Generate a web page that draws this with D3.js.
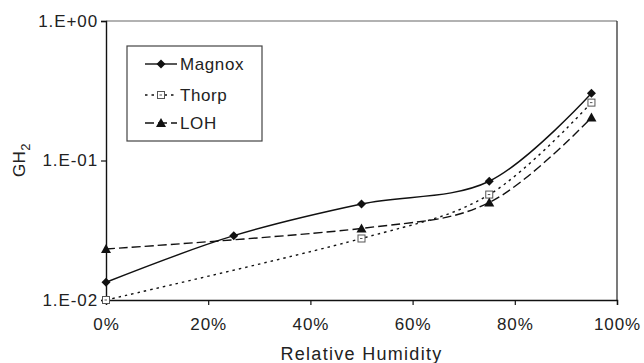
<!DOCTYPE html>
<html><head><meta charset="utf-8">
<script src="https://cdn.jsdelivr.net/npm/d3@7"></script>
<style>body{margin:0;background:#fff}svg text{font-family:"Liberation Sans",Arial,sans-serif;fill:#222}</style>
</head><body><svg id="c" width="644" height="363"></svg>
<script>
const humidity = [0, 25, 50, 75, 95];
const magnox = [0.0134, 0.0289, 0.0488, 0.071, 0.303];
const thorpX = [0, 50, 75, 95];
const thorp = [0.0100, 0.0276, 0.057, 0.26];
const lohX = [0, 50, 75, 95];
const loh = [0.0232, 0.0326, 0.050, 0.203];
const xTicks = [0, 20, 40, 60, 80, 100];
const yTicks = [0.01, 0.1, 1];
const yTickLabels = ["1.E-02", "1.E-01", "1.E+00"];
const seriesNames = ["Magnox", "Thorp", "LOH"];

const svg = d3.select("#c");
const L = 106, R = 617, T = 21, B = 300;
const x = d3.scaleLinear().domain([0, 100]).range([L, R]);
const y = d3.scaleLog().domain([0.01, 1]).range([B, T]);

// frame
svg.append("line").attr("x1", L).attr("x2", R).attr("y1", T).attr("y2", T).attr("stroke", "#666").attr("stroke-width", 1.2);
svg.append("line").attr("x1", R).attr("x2", R).attr("y1", T).attr("y2", B).attr("stroke", "#222").attr("stroke-width", 1.2);

const xa = svg.append("g").attr("transform", `translate(0,${B})`)
  .call(d3.axisBottom(x).tickValues(xTicks).tickFormat(d => d + "%").tickSize(5));
xa.selectAll(".tick text").attr("y", 30).attr("dy", 0);
const ya = svg.append("g").attr("transform", `translate(${L},0)`)
  .call(d3.axisLeft(y).tickValues(yTicks).tickFormat((d, i) => yTickLabels[i]).tickSize(5).tickPadding(3));
[xa, ya].forEach(g => {
  g.select(".domain").attr("stroke", "#111").attr("stroke-width", 1.4);
  g.selectAll(".tick line").attr("stroke", "#111").attr("stroke-width", 1.2);
  g.selectAll("text").attr("font-size", 17).attr("letter-spacing", 0.9).attr("fill", "#222")
    .style("font-family", '"Liberation Sans",Arial,sans-serif');
});

const line = d3.line().x(d => x(d[0])).y(d => y(d[1])).curve(d3.curveCardinal.tension(0));

const series = [
  {name: seriesNames[0], xs: humidity, ys: magnox, dash: null, marker: "diamond"},
  {name: seriesNames[1], xs: thorpX, ys: thorp, dash: "2.5,4", marker: "square"},
  {name: seriesNames[2], xs: lohX, ys: loh, dash: "9,4", marker: "triangle"}
];

function drawMarker(g, type, cx, cy) {
  if (type === "diamond") {
    g.append("path").attr("d", `M${cx},${cy-4.5}L${cx+4.5},${cy}L${cx},${cy+4.5}L${cx-4.5},${cy}Z`).attr("fill", "#111");
  } else if (type === "square") {
    g.append("rect").attr("x", cx-3.5).attr("y", cy-3.5).attr("width", 7).attr("height", 7).attr("fill", "#fff").attr("stroke", "#555").attr("stroke-width", 1);
    g.append("line").attr("x1", cx-1.5).attr("x2", cx+1).attr("y1", cy).attr("y2", cy).attr("stroke", "#555").attr("stroke-width", 1);
  } else {
    g.append("path").attr("d", `M${cx},${cy-5}L${cx+5},${cy+4}L${cx-5},${cy+4}Z`).attr("fill", "#111");
  }
}

series.forEach(s => {
  const pts = s.xs.map((v, i) => [v, s.ys[i]]);
  svg.append("path").attr("d", line(pts)).attr("fill", "none").attr("stroke", "#111")
    .attr("stroke-width", 1.4).attr("stroke-dasharray", s.dash);
});
series.forEach(s => {
  const g = svg.append("g");
  s.xs.forEach((v, i) => drawMarker(g, s.marker, x(v), y(s.ys[i])));
});

// legend
const lg = svg.append("g");
lg.append("rect").attr("x", 127).attr("y", 46).attr("width", 135).attr("height", 95).attr("fill", "#fff").attr("stroke", "#444").attr("stroke-width", 1.2);
const legY = [64, 95, 123];
series.forEach((s, i) => {
  lg.append("line").attr("x1", 145).attr("x2", 177).attr("y1", legY[i]).attr("y2", legY[i])
    .attr("stroke", "#111").attr("stroke-width", 1.4).attr("stroke-dasharray", s.dash);
  drawMarker(lg, s.marker, 161, legY[i]);
  lg.append("text").attr("x", 180).attr("y", legY[i] + 6).attr("font-size", 17).attr("letter-spacing", 0.6).text(s.name);
});

// axis titles
svg.append("text").attr("x", x(50)).attr("y", 360).attr("text-anchor", "middle").attr("font-size", 18).attr("letter-spacing", 1.3).text("Relative Humidity");
const yt = svg.append("text").attr("transform", "translate(25,160) rotate(-90)").attr("text-anchor", "middle").attr("font-size", 17).attr("letter-spacing", 0.5);
yt.append("tspan").text("GH");
yt.append("tspan").attr("font-size", 13).attr("dy", 5).text("2");
</script></body></html>
